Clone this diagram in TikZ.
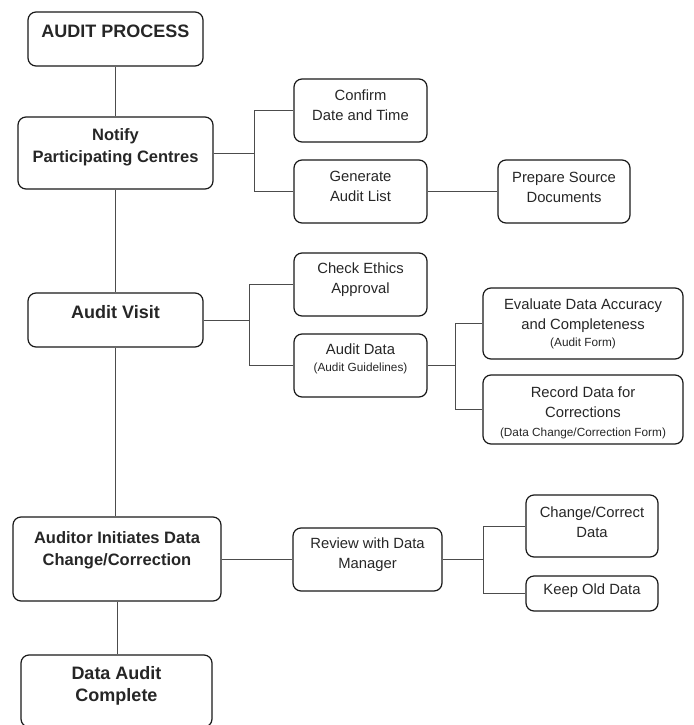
\documentclass[tikz,border=0pt]{standalone}
\usepackage{fontspec}
\setmainfont{Liberation Sans}
\usetikzlibrary{positioning}
\newcommand{\notesize}{\fontsize{11.8}{14}\selectfont}

\begin{document}
\begin{tikzpicture}[x=1pt,y=-1pt,
  box/.style={draw=black!90,line width=1.2pt,rounded corners=8pt,inner sep=0pt},
  link/.style={draw=black!70,line width=0.9pt},
  txt/.style={align=center,inner sep=0pt,text=black!85,font=\fontsize{14.8}{20}\selectfont},
  btxt/.style={txt,font=\fontsize{18}{22}\selectfont\bfseries},
  bbtxt/.style={txt,font=\fontsize{16.5}{22}\selectfont\bfseries}]
\useasboundingbox (0,0) rectangle (693,725);
% boxes: name/centre x/centre y/width/height
\foreach \n/\x/\y/\w/\h in {proc/115.5/39/175/54, notify/115.5/153/195/72,
    visit/115.5/320/175/54, auditor/117/559/208/84, complete/116.5/691/191/72,
    confirm/360.5/110.5/133/63, generate/360.5/191.5/133/63, prepare/564/191.5/132/63,
    ethics/360.5/284.5/133/63, adata/360.5/365.5/133/63,
    evaluate/583/323.5/200/71, record/583/409.5/200/69,
    review/367.5/559.5/149/63, change/592/526/132/62, keep/592/593.5/132/35}
  \node[box,minimum width=\w,minimum height=\h] (\n) at (\x,\y) {};
% main column
\foreach \n/\t/\d in {proc/{AUDIT PROCESS}/8, visit/{Audit Visit}/8,
    complete/{Data Audit\\Complete}/5.5}
  \node[btxt] (\n-t) at ([yshift=\d pt]\n.center) {\t};
\foreach \n/\t/\d in {notify/{Notify\\Participating Centres}/6,
    auditor/{Auditor Initiates Data\\Change/Correction}/9}
  \node[bbtxt] (\n-t) at ([yshift=\d pt]\n.center) {\t};
% side boxes
\foreach \n/\t/\d in {confirm/{Confirm\\Date and Time}/5.5, generate/{Generate\\Audit List}/5,
    prepare/{Prepare Source\\Documents}/4.5, ethics/{Check Ethics\\Approval}/4.5,
    review/{Review with Data\\Manager}/4.5, change/{Change/Correct\\Data}/4,
    keep/{Keep Old Data}/2.5}
  \node[txt] (\n-t) at ([yshift=\d pt]\n.center) {\t};
\node[txt] (adata-t) at ([yshift=6.5pt]adata.center) {Audit Data\\[-3pt]{\notesize(Audit Guidelines)}};
\node[txt] (evaluate-t) at ([yshift=0pt]evaluate.center) {Evaluate Data Accuracy\\and Completeness\\[-3pt]{\notesize(Audit Form)}};
\node[txt] (record-t) at ([yshift=-3.5pt]record.center) {Record Data for\\Corrections\\[-1pt]{\notesize(Data Change/Correction Form)}};
% connectors
\draw[link] (proc.south) -- (notify.north);
\draw[link] (notify.south) -- (visit.north);
\draw[link] (visit.south) -- (visit.south |- auditor.north);
\draw[link] (auditor.south) -- (auditor.south |- complete.north);
\coordinate (j1) at (254,153);
\draw[link] (notify.east) -- (j1) |- (confirm.west);
\draw[link] (j1) |- (generate.west);
\draw[link] (generate.east) -- (prepare.west);
\coordinate (j2) at (249,320);
\draw[link] (visit.east) -- (j2) |- (ethics.west);
\draw[link] (j2) |- (adata.west);
\coordinate (j3) at (455,365.5);
\draw[link] (adata.east) -- (j3) |- (evaluate.west);
\draw[link] (j3) |- (record.west);
\draw[link] (auditor.east) -- (auditor.east -| review.west);
\coordinate (j4) at (483,559.5);
\draw[link] (review.east) -- (j4) |- (change.west);
\draw[link] (j4) |- (keep.west);
\end{tikzpicture}
\end{document}
